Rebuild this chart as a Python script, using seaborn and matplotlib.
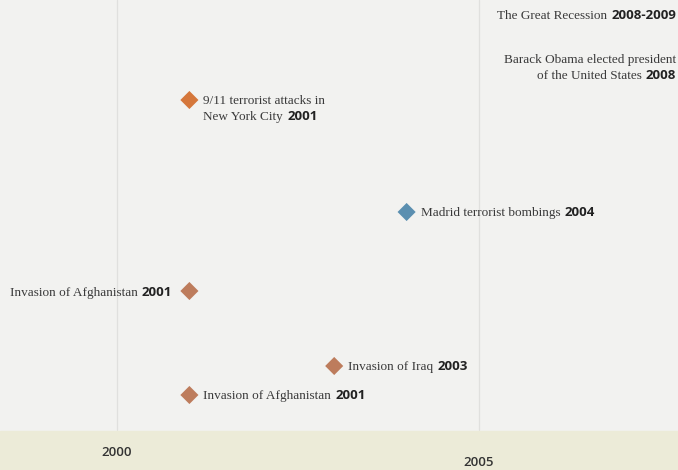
import matplotlib
matplotlib.use("Agg")
import matplotlib.pyplot as plt
import seaborn as sns

# events on the timeline
event_text = [
    ["The Great Recession"],
    ["Barack Obama elected president", "of the United States"],
    ["9/11 terrorist attacks in", "New York City"],
    ["Madrid terrorist bombings"],
    ["Invasion of Afghanistan"],
    ["Invasion of Iraq"],
    ["Invasion of Afghanistan"],
]
event_year_label = ["2008-2009", "2008", "2001", "2004", "2001", "2003", "2001"]
event_year = [2008, 2008, 2001, 2004, 2001, 2003, 2001]
event_kind = ["economy", "politics", "attack", "attack_eu", "war", "war", "war"]

axis_years = [2000, 2005]

# layout (pixel rows on the page, which side the label sits on)
event_row = [14, 58, 100, 212, 291, 366, 395]
event_side = ["left", "left", "right", "right", "left", "right", "right"]
axis_row = [452, 463]

kind_colors = {
    "economy": "#c08566",
    "politics": "#c08566",
    "attack": "#d5773b",
    "attack_eu": "#5b8fb0",
    "war": "#bd7c5c",
}

SERIF = "Liberation Serif"
SANS = "Open Sans"
PAGE = "#f2f2f0"

sns.set_theme(style="white")
fig = plt.figure(figsize=(6.78, 4.70), dpi=100)
fig.patch.set_facecolor(PAGE)
ax = fig.add_axes([0, 0, 1, 1])
ax.set_facecolor(PAGE)

px_per_year = 72.4
x0_px = 117
ax.set_xlim(2000 - x0_px / px_per_year, 2000 + (678 - x0_px) / px_per_year)
ax.set_ylim(470, 0)
ax.axis("off")

# faint year rules and bottom band
for yr in axis_years:
    ax.axvline(yr, ymin=40 / 470, ymax=1, color="#e0e0de", lw=0.9, zorder=0)
ax.axhspan(431, 470, color="#ecebd8", zorder=0)

sns.scatterplot(
    x=event_year, y=event_row, hue=list(range(len(event_year))),
    palette=[kind_colors[k] for k in event_kind],
    marker="D", s=85, edgecolor="none", legend=False, ax=ax, zorder=3,
)

renderer = fig.canvas.get_renderer()
serif_kw = dict(fontfamily=SERIF, fontsize=9.5, color="#3a3a3a")
year_kw = dict(fontfamily=SANS, fontsize=9.5, fontweight="bold", color="#222222")
line_h = 16


def width(t):
    return t.get_window_extent(renderer).width


def label(x, y, lines, year, side):
    dx, dy = (14, -4) if side == "right" else (-17, -5)
    if side == "right":
        for i, line in enumerate(lines):
            t = ax.annotate(line, (x, y), xytext=(dx, dy - i * line_h),
                            textcoords="offset pixels", ha="left",
                            va="baseline", annotation_clip=False, **serif_kw)
        ax.annotate(year, (x, y), xytext=(dx + width(t) + 4, dy - (len(lines) - 1) * line_h),
                    textcoords="offset pixels", ha="left", va="baseline",
                    annotation_clip=False, **year_kw)
    else:
        n = len(lines)
        yt = ax.annotate(year, (x, y), xytext=(dx, dy - (n - 1) * line_h),
                         textcoords="offset pixels", ha="right", va="baseline",
                         annotation_clip=False, **year_kw)
        yw = width(yt)
        for i, line in enumerate(lines):
            off = dx - yw - 4 if i == n - 1 else dx
            ax.annotate(line, (x, y), xytext=(off, dy - i * line_h),
                        textcoords="offset pixels", ha="right", va="baseline",
                        annotation_clip=False, **serif_kw)


for txt, yl, yr, row, side in zip(event_text, event_year_label, event_year, event_row, event_side):
    if yr >= 2008:
        # marker is off the page edge; label hugs the right margin
        label(ax.get_xlim()[1] + 15 / px_per_year, row, txt, yl, side)
    else:
        label(yr, row, txt, yl, side)

for yr, row in zip(axis_years, axis_row):
    ax.text(yr, row, str(yr), ha="center", va="center", fontfamily=SANS,
            fontsize=9.5, fontweight="semibold", color="#333333")

fig.savefig("out.png", dpi=100, facecolor=fig.get_facecolor())
